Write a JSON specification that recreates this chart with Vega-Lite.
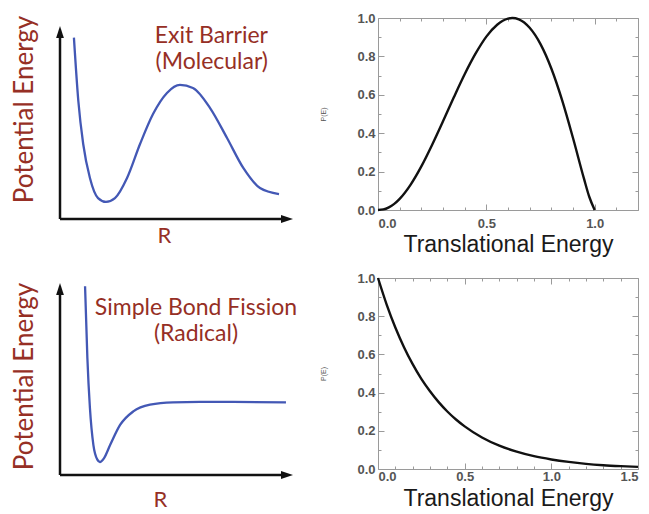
{
  "$schema": "https://vega.github.io/schema/vega-lite/v6.json",
  "padding": {"left": 11, "top": 11, "right": 5, "bottom": 3},
  "background": "white",
  "config": {"font": "Lato", "view": {"stroke": null}, "axis": {"grid": false}},
  "datasets": {
    "tl_curve": [
      {"x": 0.60, "y": 9.02}, {"x": 0.79, "y": 5.87}, {"x": 1.00, "y": 3.73}, {"x": 1.29, "y": 2.04},
      {"x": 1.64, "y": 1.04}, {"x": 1.98, "y": 0.85}, {"x": 2.37, "y": 1.04}, {"x": 2.89, "y": 2.04},
      {"x": 3.45, "y": 3.73}, {"x": 4.01, "y": 5.22}, {"x": 4.61, "y": 6.27}, {"x": 5.17, "y": 6.67},
      {"x": 5.73, "y": 6.52}, {"x": 6.47, "y": 5.52}, {"x": 7.20, "y": 4.03}, {"x": 7.90, "y": 2.54},
      {"x": 8.62, "y": 1.54}, {"x": 9.44, "y": 1.24}
    ],
    "tl_axes": [
      {"x": 0, "y": 0, "x2": 9.74, "y2": 0},
      {"x": 0, "y": 0, "x2": 0, "y2": 9.25}
    ],
    "tl_heads": [
      {"x": 0, "y": 9.25, "dir": "up"},
      {"x": 9.74, "y": 0, "dir": "right"}
    ],
    "bl_curve": [
      {"x": 1.08, "y": 9.58}, {"x": 1.18, "y": 5.94}, {"x": 1.29, "y": 3.40}, {"x": 1.44, "y": 1.52},
      {"x": 1.61, "y": 0.78}, {"x": 1.72, "y": 0.66}, {"x": 1.90, "y": 0.86}, {"x": 2.16, "y": 1.52},
      {"x": 2.59, "y": 2.54}, {"x": 3.16, "y": 3.23}, {"x": 3.88, "y": 3.57}, {"x": 4.87, "y": 3.69},
      {"x": 6.03, "y": 3.71}, {"x": 7.46, "y": 3.71}, {"x": 9.74, "y": 3.69}
    ],
    "bl_axes": [
      {"x": 0, "y": 0, "x2": 9.74, "y2": 0},
      {"x": 0, "y": 0, "x2": 0, "y2": 9.39}
    ],
    "bl_heads": [
      {"x": 0, "y": 9.39, "dir": "up"},
      {"x": 9.74, "y": 0, "dir": "right"}
    ],
    "tr_curve": [
      {"E": 0, "P": 0}, {"E": 0.025, "P": 0.003}, {"E": 0.05, "P": 0.014}, {"E": 0.075, "P": 0.032},
      {"E": 0.1, "P": 0.058}, {"E": 0.15, "P": 0.131}, {"E": 0.2, "P": 0.227}, {"E": 0.25, "P": 0.340},
      {"E": 0.3, "P": 0.462}, {"E": 0.35, "P": 0.587}, {"E": 0.4, "P": 0.707}, {"E": 0.45, "P": 0.814},
      {"E": 0.5, "P": 0.903}, {"E": 0.55, "P": 0.965}, {"E": 0.6, "P": 0.997}, {"E": 0.62, "P": 1.0},
      {"E": 0.65, "P": 0.993}, {"E": 0.7, "P": 0.949}, {"E": 0.75, "P": 0.864}, {"E": 0.8, "P": 0.737},
      {"E": 0.85, "P": 0.571}, {"E": 0.9, "P": 0.375}, {"E": 0.95, "P": 0.166}, {"E": 0.975, "P": 0.069},
      {"E": 1.0, "P": 0}
    ],
    "br_curve": [
      {"E": 0, "P": 1.0}, {"E": 0.05, "P": 0.861}, {"E": 0.1, "P": 0.741}, {"E": 0.15, "P": 0.638},
      {"E": 0.2, "P": 0.549}, {"E": 0.25, "P": 0.472}, {"E": 0.3, "P": 0.407}, {"E": 0.35, "P": 0.350},
      {"E": 0.4, "P": 0.301}, {"E": 0.45, "P": 0.259}, {"E": 0.5, "P": 0.223}, {"E": 0.6, "P": 0.165},
      {"E": 0.7, "P": 0.122}, {"E": 0.8, "P": 0.091}, {"E": 0.9, "P": 0.067}, {"E": 1.0, "P": 0.050},
      {"E": 1.1, "P": 0.037}, {"E": 1.2, "P": 0.027}, {"E": 1.3, "P": 0.020}, {"E": 1.4, "P": 0.015},
      {"E": 1.5, "P": 0.011}
    ]
  },
  "bounds": "flush",
  "columns": 2,
  "spacing": {"row": 59, "column": 86},
  "concat": [
    {
      "width": 232,
      "height": 201,
      "title": {"text": ["Exit Barrier", "(Molecular)"], "font": "Lato", "fontSize": 23, "fontWeight": "normal", "color": "#962f25", "anchor": "end", "align": "right", "dx": -24, "offset": -59, "lineHeight": 26, "frame": "group"},
      "layer": [
        {
          "data": {"name": "tl_axes"},
          "mark": {"type": "rule", "color": "#111111", "strokeWidth": 2.5},
          "encoding": {
            "x": {"field": "x", "type": "quantitative", "scale": {"domain": [0, 10], "nice": false, "zero": false},
              "axis": {"title": "R", "domain": false, "ticks": false, "labels": false, "grid": false, "titleFont": "Lato", "titleFontSize": 22, "titleFontWeight": "normal", "titleColor": "#962f25", "titleX": 104, "titlePadding": 6}},
            "y": {"field": "y", "type": "quantitative", "scale": {"domain": [0, 10], "nice": false, "zero": false},
              "axis": {"title": "Potential Energy", "domain": false, "ticks": false, "labels": false, "grid": false, "titleFont": "Lato", "titleFontSize": 26, "titleFontWeight": "normal", "titleColor": "#962f25", "titleY": 91, "titlePadding": 23}},
            "x2": {"field": "x2"},
            "y2": {"field": "y2"}
          }
        },
        {
          "data": {"name": "tl_heads"},
          "mark": {"type": "point", "filled": true, "color": "#111111", "size": 200, "opacity": 1},
          "encoding": {
            "x": {"field": "x", "type": "quantitative"},
            "y": {"field": "y", "type": "quantitative"},
            "shape": {"field": "dir", "type": "nominal", "scale": {"domain": ["up", "right"], "range": ["M0,-1L0.55,0.7L-0.55,0.7Z", "M1,0L-0.7,0.55L-0.7,-0.55Z"]}, "legend": null}
          }
        },
        {
          "data": {"name": "tl_curve"},
          "mark": {"type": "line", "color": "#4358b5", "strokeWidth": 2.3, "interpolate": "monotone"},
          "encoding": {
            "x": {"field": "x", "type": "quantitative"},
            "y": {"field": "y", "type": "quantitative"}
          }
        }
      ]
    },
    {
      "width": 260,
      "height": 192,
      "view": {"stroke": "#9a9a9a", "strokeWidth": 1},
      "data": {"name": "tr_curve"},
      "resolve": {"axis": {"x": "independent", "y": "independent"}},
      "layer": [
        {
          "mark": {"type": "line", "color": "#111111", "strokeWidth": 2.4, "interpolate": "monotone"},
          "encoding": {
            "x": {"field": "E", "type": "quantitative", "scale": {"domain": [0, 1.2], "nice": false, "zero": false},
              "axis": {"orient": "bottom", "values": [0, 0.1, 0.2, 0.3, 0.4, 0.5, 0.6, 0.7, 0.8, 0.9, 1.0, 1.1, 1.2], "domain": false, "grid": false, "tickColor": "#9a9a9a",
                "tickSize": {"condition": {"test": "round(datum.value*10)%5==0", "value": -6}, "value": -3},
                "labelExpr": "round(datum.value*10)%5==0 ? format(datum.value,'.1f') : ''",
                "labelFont": "Liberation Sans", "labelFontSize": 13, "labelFontWeight": "bold", "labelColor": "#555555", "labelPadding": 13, "labelOverlap": false,
                "title": "Translational Energy", "titleFont": "Liberation Sans", "titleFontSize": 23, "titleFontWeight": "normal", "titleColor": "#1a1a1a", "titlePadding": 0}},
            "y": {"field": "P", "type": "quantitative", "scale": {"domain": [0, 1], "nice": false, "zero": false},
              "axis": {"orient": "left", "values": [0, 0.1, 0.2, 0.3, 0.4, 0.5, 0.6, 0.7, 0.8, 0.9, 1.0], "domain": false, "grid": false, "tickColor": "#9a9a9a",
                "tickSize": {"condition": {"test": "round(datum.value*10)%2==0", "value": -6}, "value": -3},
                "labelExpr": "round(datum.value*10)%2==0 ? format(datum.value,'.1f') : ''",
                "labelFont": "Liberation Sans", "labelFontSize": 13, "labelFontWeight": "bold", "labelColor": "#555555", "labelPadding": 9, "labelOverlap": false,
                "title": "P(E)", "titleFont": "Liberation Sans", "titleFontSize": 7, "titleFontWeight": "normal", "titleColor": "#555555", "titlePadding": 30}}
          }
        },
        {
          "mark": {"type": "line", "opacity": 0},
          "encoding": {
            "x": {"field": "E", "type": "quantitative",
              "axis": {"orient": "top", "values": [0, 0.1, 0.2, 0.3, 0.4, 0.5, 0.6, 0.7, 0.8, 0.9, 1.0, 1.1, 1.2], "domain": false, "grid": false, "labels": false, "title": null, "tickColor": "#9a9a9a",
                "tickSize": {"condition": {"test": "round(datum.value*10)%5==0", "value": -6}, "value": -3}}},
            "y": {"field": "P", "type": "quantitative",
              "axis": {"orient": "right", "values": [0, 0.1, 0.2, 0.3, 0.4, 0.5, 0.6, 0.7, 0.8, 0.9, 1.0], "domain": false, "grid": false, "labels": false, "title": null, "tickColor": "#9a9a9a",
                "tickSize": {"condition": {"test": "round(datum.value*10)%2==0", "value": -6}, "value": -3}}}
          }
        }
      ]
    },
    {
      "width": 232,
      "height": 197,
      "title": {"text": ["Simple Bond Fission", "(Radical)"], "font": "Lato", "fontSize": 23, "fontWeight": "normal", "color": "#962f25", "anchor": "middle", "align": "center", "dx": 20, "offset": -68, "lineHeight": 26, "frame": "group"},
      "layer": [
        {
          "data": {"name": "bl_axes"},
          "mark": {"type": "rule", "color": "#111111", "strokeWidth": 2.5},
          "encoding": {
            "x": {"field": "x", "type": "quantitative", "scale": {"domain": [0, 10], "nice": false, "zero": false},
              "axis": {"title": "R", "domain": false, "ticks": false, "labels": false, "grid": false, "titleFont": "Lato", "titleFontSize": 22, "titleFontWeight": "normal", "titleColor": "#962f25", "titleX": 100, "titlePadding": 14}},
            "y": {"field": "y", "type": "quantitative", "scale": {"domain": [0, 10], "nice": false, "zero": false},
              "axis": {"title": "Potential Energy", "domain": false, "ticks": false, "labels": false, "grid": false, "titleFont": "Lato", "titleFontSize": 26, "titleFontWeight": "normal", "titleColor": "#962f25", "titleY": 98, "titlePadding": 23}},
            "x2": {"field": "x2"},
            "y2": {"field": "y2"}
          }
        },
        {
          "data": {"name": "bl_heads"},
          "mark": {"type": "point", "filled": true, "color": "#111111", "size": 200, "opacity": 1},
          "encoding": {
            "x": {"field": "x", "type": "quantitative"},
            "y": {"field": "y", "type": "quantitative"},
            "shape": {"field": "dir", "type": "nominal", "scale": {"domain": ["up", "right"], "range": ["M0,-1L0.55,0.7L-0.55,0.7Z", "M1,0L-0.7,0.55L-0.7,-0.55Z"]}, "legend": null}
          }
        },
        {
          "data": {"name": "bl_curve"},
          "mark": {"type": "line", "color": "#4358b5", "strokeWidth": 2.3, "interpolate": "monotone"},
          "encoding": {
            "x": {"field": "x", "type": "quantitative"},
            "y": {"field": "y", "type": "quantitative"}
          }
        }
      ]
    },
    {
      "width": 260,
      "height": 191,
      "view": {"stroke": "#9a9a9a", "strokeWidth": 1},
      "data": {"name": "br_curve"},
      "resolve": {"axis": {"x": "independent", "y": "independent"}},
      "layer": [
        {
          "mark": {"type": "line", "color": "#111111", "strokeWidth": 2.4, "interpolate": "monotone"},
          "encoding": {
            "x": {"field": "E", "type": "quantitative", "scale": {"domain": [0, 1.5], "nice": false, "zero": false},
              "axis": {"orient": "bottom", "values": [0, 0.1, 0.2, 0.3, 0.4, 0.5, 0.6, 0.7, 0.8, 0.9, 1.0, 1.1, 1.2, 1.3, 1.4, 1.5], "domain": false, "grid": false, "tickColor": "#9a9a9a",
                "tickSize": {"condition": {"test": "round(datum.value*10)%5==0", "value": -6}, "value": -3},
                "labelExpr": "round(datum.value*10)%5==0 ? format(datum.value,'.1f') : ''",
                "labelFont": "Liberation Sans", "labelFontSize": 13, "labelFontWeight": "bold", "labelColor": "#555555", "labelPadding": 7, "labelOverlap": false,
                "title": "Translational Energy", "titleFont": "Liberation Sans", "titleFontSize": 23, "titleFontWeight": "normal", "titleColor": "#1a1a1a", "titlePadding": 1}},
            "y": {"field": "P", "type": "quantitative", "scale": {"domain": [0, 1], "nice": false, "zero": false},
              "axis": {"orient": "left", "values": [0, 0.1, 0.2, 0.3, 0.4, 0.5, 0.6, 0.7, 0.8, 0.9, 1.0], "domain": false, "grid": false, "tickColor": "#9a9a9a",
                "tickSize": {"condition": {"test": "round(datum.value*10)%2==0", "value": -6}, "value": -3},
                "labelExpr": "round(datum.value*10)%2==0 ? format(datum.value,'.1f') : ''",
                "labelFont": "Liberation Sans", "labelFontSize": 13, "labelFontWeight": "bold", "labelColor": "#555555", "labelPadding": 9, "labelOverlap": false,
                "title": "P(E)", "titleFont": "Liberation Sans", "titleFontSize": 7, "titleFontWeight": "normal", "titleColor": "#555555", "titlePadding": 30}}
          }
        },
        {
          "mark": {"type": "line", "opacity": 0},
          "encoding": {
            "x": {"field": "E", "type": "quantitative",
              "axis": {"orient": "top", "values": [0, 0.1, 0.2, 0.3, 0.4, 0.5, 0.6, 0.7, 0.8, 0.9, 1.0, 1.1, 1.2, 1.3, 1.4, 1.5], "domain": false, "grid": false, "labels": false, "title": null, "tickColor": "#9a9a9a",
                "tickSize": {"condition": {"test": "round(datum.value*10)%5==0", "value": -6}, "value": -3}}},
            "y": {"field": "P", "type": "quantitative",
              "axis": {"orient": "right", "values": [0, 0.1, 0.2, 0.3, 0.4, 0.5, 0.6, 0.7, 0.8, 0.9, 1.0], "domain": false, "grid": false, "labels": false, "title": null, "tickColor": "#9a9a9a",
                "tickSize": {"condition": {"test": "round(datum.value*10)%2==0", "value": -6}, "value": -3}}}
          }
        }
      ]
    }
  ]
}
